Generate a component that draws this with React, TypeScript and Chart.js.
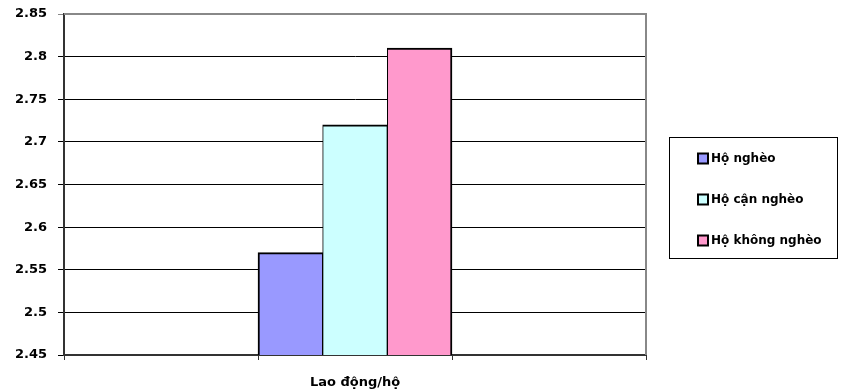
import React, { useEffect, useRef } from "react";
import { Chart, registerables } from "chart.js";

Chart.register(...registerables);

const categories = ["", "Lao động/hộ", ""];
const seriesNames = ["Hộ nghèo", "Hộ cận nghèo", "Hộ không nghèo"];
const hoNgheo = [null, 2.57, null];
const hoCanNgheo = [null, 2.72, null];
const hoKhongNgheo = [null, 2.81, null];
const yMin = 2.45;
const yMax = 2.85;
const yStep = 0.05;
const seriesColors = ["#9999FF", "#CCFFFF", "#FF99CC"];

const FONT = "'DejaVu Sans', sans-serif";

const frameLegendPlugin = {
  id: "frameLegend",
  afterDraw(chart: any) {
    const ctx = chart.ctx;
    const a = chart.chartArea;
    ctx.save();
    ctx.strokeStyle = "#888888";
    ctx.lineWidth = 2;
    ctx.beginPath();
    ctx.moveTo(a.left, a.top);
    ctx.lineTo(a.right, a.top);
    ctx.lineTo(a.right, a.bottom);
    ctx.stroke();

    const bx = 669.5, by = 137.5, bw = 168, bh = 121;
    ctx.strokeStyle = "#000000";
    ctx.lineWidth = 1;
    ctx.strokeRect(bx, by, bw, bh);
    const rows = [158.5, 199.5, 240.5];
    ctx.font = "bold 12px " + FONT;
    ctx.textBaseline = "middle";
    ctx.textAlign = "left";
    chart.data.datasets.forEach((ds: any, i: number) => {
      const y = rows[i];
      ctx.fillStyle = ds.backgroundColor;
      ctx.fillRect(698, y - 5, 10, 10);
      ctx.strokeStyle = "#000";
      ctx.lineWidth = 2;
      ctx.strokeRect(698, y - 5, 10, 10);
      ctx.fillStyle = "#000";
      ctx.fillText(ds.label, 711, y);
    });
    ctx.restore();
  },
};

export default function App() {
  const ref = useRef<HTMLCanvasElement | null>(null);
  useEffect(() => {
    document.body.style.margin = "0";
    const canvas = ref.current!;
    const data = [hoNgheo, hoCanNgheo, hoKhongNgheo];
    const borders = [
      { top: 2, left: 2, right: 1, bottom: 0 },
      { top: 2, left: 1, right: 1, bottom: 0 },
      { top: 2, left: 1, right: 2, bottom: 0 },
    ];
    const chart = new Chart(canvas, {
      type: "bar",
      data: {
        labels: categories,
        datasets: seriesNames.map((name, i) => ({
          label: name,
          data: data[i],
          backgroundColor: seriesColors[i],
          borderColor: "#000000",
          borderWidth: borders[i],
          borderSkipped: false,
          categoryPercentage: 1,
          barPercentage: 1,
        })),
      },
      options: {
        responsive: false,
        animation: false,
        layout: { padding: { top: 14, right: 195, left: 0, bottom: 0 } },
        plugins: {
          legend: { display: false },
          tooltip: { enabled: false },
        },
        scales: {
          x: {
            grid: {
              offset: true,
              drawOnChartArea: false,
              drawTicks: true,
              tickLength: 5,
              color: "#333333",
            },
            border: { display: true, color: "#333333", width: 2 },
            ticks: {
              color: "#000",
              font: { family: FONT, size: 13, weight: "bold" },
              padding: 15,
              maxRotation: 0,
            },
            afterFit: (axis: any) => {
              axis.height = 36;
              axis.paddingLeft = 0;
              axis.paddingRight = 0;
            },
          },
          y: {
            min: yMin,
            max: yMax,
            ticks: {
              stepSize: yStep,
              color: "#000",
              font: { family: FONT, size: 13, weight: "bold" },
              padding: 11,
              callback: (v: any) => String(Math.round(Number(v) * 100) / 100),
            },
            grid: {
              color: (c: any) =>
                c.tick && Math.abs(c.tick.value - yMax) < 1e-6 ? "#888888" : "#000000",
              lineWidth: 1,
              drawTicks: true,
              tickLength: 6,
            },
            border: { display: true, color: "#333333", width: 2 },
            afterFit: (axis: any) => {
              axis.width = 64;
              axis.paddingTop = 0;
              axis.paddingBottom = 0;
            },
          },
        },
      },
      plugins: [frameLegendPlugin],
    });
    return () => chart.destroy();
  }, []);
  return (
    <div style={{ width: 841, height: 391, background: "#fff" }}>
      <canvas ref={ref} width={841} height={391} />
    </div>
  );
}
